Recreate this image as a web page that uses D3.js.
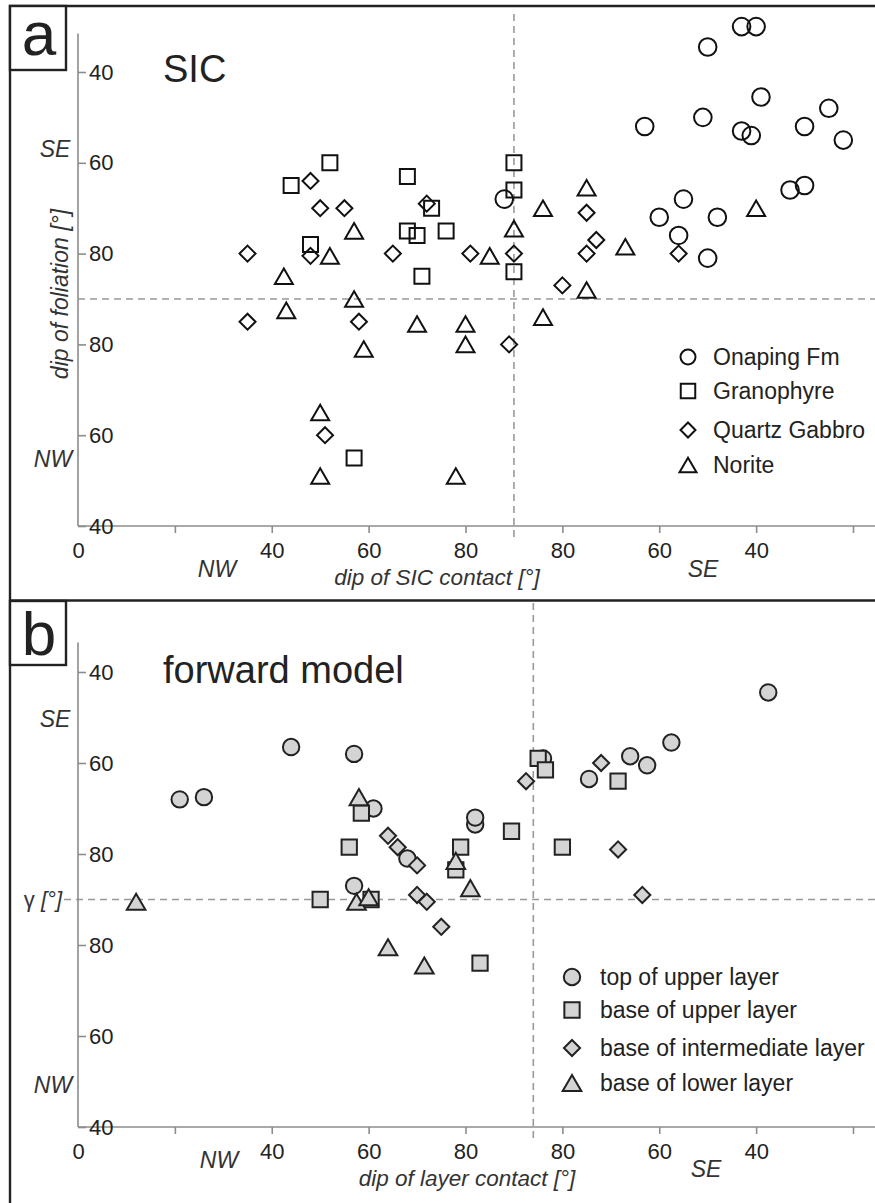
<!DOCTYPE html>
<html><head><meta charset="utf-8">
<script src="https://cdn.jsdelivr.net/npm/d3@7"></script>
<style>
html,body{margin:0;padding:0;background:#fff;}
svg{display:block;font-family:"Liberation Sans",Arial,Helvetica,sans-serif;}
</style></head><body>
<svg id="chart" width="875" height="1203"></svg>
<script>
// Folded axes: x 0–90 = NW dip, 90–180 = SE dip mirrored (180 − dip)
//              y 40–90 = SE dip, 90–140 = NW dip mirrored (180 − dip)
const xTickValues = [0, 20, 40, 60, 80, 100, 120, 140, 160];
const xTickLabels = ["0", "", "40", "60", "80", "80", "60", "40", ""];
const yTickValues = [40, 60, 80, 100, 120, 140];
const yTickLabels = ["40", "60", "80", "80", "60", "40"];

// Panel a: SIC
const sicNames = ["Onaping Fm", "Granophyre", "Quartz Gabbro", "Norite"];
const onaping = [[137,30],[140,30],[130,34.5],[141,45.5],[155,48],[129,50],[117,52],[137,53],[139,54],
  [150,52],[158,55],[147,66],[150,65],[125,68],[120,72],[132,72],[124,76],[130,81],[88,68]];
const granophyre = [[52,60],[44,65],[68,63],[90,60],[90,66],[73,70],[68,75],[70,76],[76,75],[48,78],
  [71,85],[90,84],[57,125]];
const quartzGabbro = [[35,80],[48,64],[50,70],[55,70],[72,69],[48,80.5],[65,80],[81,80],[90,80],[100,87],
  [105,71],[107,77],[105,80],[124,80],[35,95],[58,95],[89,100],[51,120]];
const norite = [[57,75],[52,80.5],[85,80.5],[90,74.5],[96,70],[42.5,85],[105,65.5],[113,78.5],[140,70],
  [105,88],[57,90],[43,92.5],[70,95.5],[80,95.5],[59,101],[80,100],[96,94],[50,115],[50,129],[78,129]];

// Panel b: forward model
const modelNames = ["top of upper layer", "base of upper layer", "base of intermediate layer", "base of lower layer"];
const topUpper = [[21,68],[26,67.5],[44,56.5],[57,58],[61,70],[96,59],[105.5,63.5],[114,58.5],[117.5,60.5],
  [122.5,55.5],[142.5,44.5],[82,73.5],[82,72],[68,81],[57,87]];
const baseUpper = [[58.5,71],[56,78.5],[79,78.5],[89.5,75],[100,78.5],[78,83.5],[95,59],[96.5,61.5],
  [111.5,64],[50,90],[60.5,90],[83,104]];
const baseIntermediate = [[64,76],[66,78.5],[70,82.5],[92.5,64],[108,60],[111.5,79],[116.5,89],[70,89],
  [72,90.5],[75,96]];
const baseLower = [[12,90.5],[58,67.5],[78,81.5],[81,87.5],[57.5,90.5],[60,89.5],[64,100.5],[71.5,104.5]];

const svg = d3.select("#chart");
const W = 875;

// custom symbols (centered on bounding box)
const triSym = { draw(ctx, size) { const a = Math.sqrt(size * 4 / Math.sqrt(3)); const h = a * Math.sqrt(3) / 2;
  ctx.moveTo(0, -h / 2); ctx.lineTo(a / 2, h / 2); ctx.lineTo(-a / 2, h / 2); ctx.closePath(); } };
const diaSym = { draw(ctx, size) { const d = Math.sqrt(size / 2);
  ctx.moveTo(0, -d); ctx.lineTo(d, 0); ctx.lineTo(0, d); ctx.lineTo(-d, 0); ctx.closePath(); } };
const symTypes = [d3.symbolCircle, d3.symbolSquare, diaSym, triSym];

// frame
svg.append("path").attr("d", `M${W},6H10V1203M10,600.5H${W}`)
  .attr("fill", "none").attr("stroke", "#222").attr("stroke-width", 2.4);

function drawPanel(p) {
  const g = svg.append("g");
  const x = d3.scaleLinear().domain([0, 160]).range([78, 853]);
  const y = d3.scaleLinear().domain([40, 140]).range(p.yRange);

  // dashed reference lines
  g.append("line").attr("x1", p.hDashStart).attr("x2", W).attr("y1", y(90)).attr("y2", y(90))
    .attr("stroke", "#999").attr("stroke-width", 1.6).attr("stroke-dasharray", "7,5");
  g.append("line").attr("x1", x(p.vDash)).attr("x2", x(p.vDash)).attr("y1", p.vDashTop).attr("y2", y(140) + 12)
    .attr("stroke", "#999").attr("stroke-width", 1.6).attr("stroke-dasharray", "7,5");

  // axes
  const gx = g.append("g").attr("transform", `translate(0,${y(140)})`)
    .call(d3.axisBottom(x).tickValues(xTickValues).tickFormat((d, i) => xTickLabels[i])
      .tickSize(7).tickPadding(9).tickSizeOuter(0));
  gx.select(".domain").attr("d", `M${x(0)},0H${W}`);
  gx.selectAll(".tick").filter(d => d === 0).select("line").remove();
  const gy = g.append("g").attr("transform", `translate(${x(0)},0)`)
    .call(d3.axisRight(y).tickValues(yTickValues).tickFormat((d, i) => yTickLabels[i])
      .tickSize(8).tickPadding(3).tickSizeOuter(0));
  gy.select(".domain").attr("d", `M0,${y(p.yAxisTop)}V${y(140)}`);
  [gx, gy].forEach(a => {
    a.selectAll(".domain, .tick line").attr("stroke", "#8c8c8c").attr("stroke-width", 1.6);
    a.selectAll(".tick text").attr("fill", "#222").attr("font-size", 22).attr("font-family", "Liberation Sans, Arial, sans-serif");
  });

  // axis labels
  const lab = (t, tx, ty, fs) => g.append("text").attr("x", tx).attr("y", ty)
    .attr("text-anchor", "middle").attr("font-size", fs || 23).attr("font-style", "italic").attr("fill", "#333").text(t);
  p.labels.forEach(l => lab(l[0], l[1], l[2], l[3]));

  // title
  g.append("text").attr("x", 163).attr("y", p.titleY).attr("font-size", 38).attr("fill", "#222").text(p.title);

  // panel letter box
  g.append("rect").attr("x", 10).attr("y", p.boxY).attr("width", 56).attr("height", 64)
    .attr("fill", "#fff").attr("stroke", "#222").attr("stroke-width", 2.4);
  g.append("text").attr("x", 39).attr("y", p.letterY).attr("text-anchor", "middle")
    .attr("font-size", 62).attr("fill", "#222").text(p.letter);

  // points
  p.series.forEach((s, i) => {
    const sym = d3.symbol().type(symTypes[i]).size(p.sizes[i]);
    g.append("g").selectAll("path").data(s).join("path")
      .attr("d", sym)
      .attr("transform", d => `translate(${x(d[0])},${y(d[1])})`)
      .attr("fill", p.fill).attr("stroke", p.stroke).attr("stroke-width", 2);
  });

  // legend
  p.names.forEach((n, i) => {
    const sym = d3.symbol().type(symTypes[i]).size(p.legendSizes[i]);
    g.append("path").attr("d", sym).attr("transform", `translate(${p.legendX},${p.legendY[i]})`)
      .attr("fill", p.fill).attr("stroke", p.stroke).attr("stroke-width", 2);
    g.append("text").attr("x", p.legendX + p.legendGap).attr("y", p.legendY[i]).attr("dy", "0.36em")
      .attr("font-size", 23).attr("fill", "#222").text(n);
  });
  return g;
}

const ga = drawPanel({
  yRange: [72, 526], yAxisTop: 31.5, hDashStart: 78, vDash: 90, vDashTop: 14,
  title: "SIC", titleY: 82, letter: "a", boxY: 6, letterY: 55,
  series: [onaping, granophyre, quartzGabbro, norite],
  sizes: [243, 225, 128, 140], legendSizes: [177, 210, 112, 125],
  fill: "none", stroke: "#111",
  names: sicNames, legendX: 688, legendGap: 25, legendY: [357, 391, 430, 465],
  labels: [["NW", 217, 577], ["dip of SIC contact [°]", 437, 585, 22.5], ["SE", 703, 577],
           ["SE", 55, 157], ["NW", 53, 467]]
});
ga.append("text").attr("transform", "translate(68,294) rotate(-90)").attr("text-anchor", "middle")
  .attr("font-size", 23).attr("font-style", "italic").attr("fill", "#333").text("dip of foliation [°]");

const gb = drawPanel({
  yRange: [672, 1127], yAxisTop: 33.5, hDashStart: 64, vDash: 94, vDashTop: 603,
  title: "forward model", titleY: 683, letter: "b", boxY: 601, letterY: 655,
  series: [topUpper, baseUpper, baseIntermediate, baseLower],
  sizes: [212, 234, 130, 150], legendSizes: [212, 234, 130, 150],
  fill: "#d4d4d4", stroke: "#222",
  names: modelNames, legendX: 572, legendGap: 28, legendY: [977, 1010, 1048, 1083],
  labels: [["NW", 219, 1168], ["dip of layer contact [°]", 467, 1186, 22.5], ["SE", 706, 1177],
           ["SE", 55, 727], ["NW", 53, 1093]]
});
const gl = gb.append("text").attr("x", 62).attr("y", 907).attr("text-anchor", "end")
  .attr("font-size", 22).attr("fill", "#333");
gl.append("tspan").text("γ ");
gl.append("tspan").attr("font-style", "italic").text("[°]");
</script></body></html>
